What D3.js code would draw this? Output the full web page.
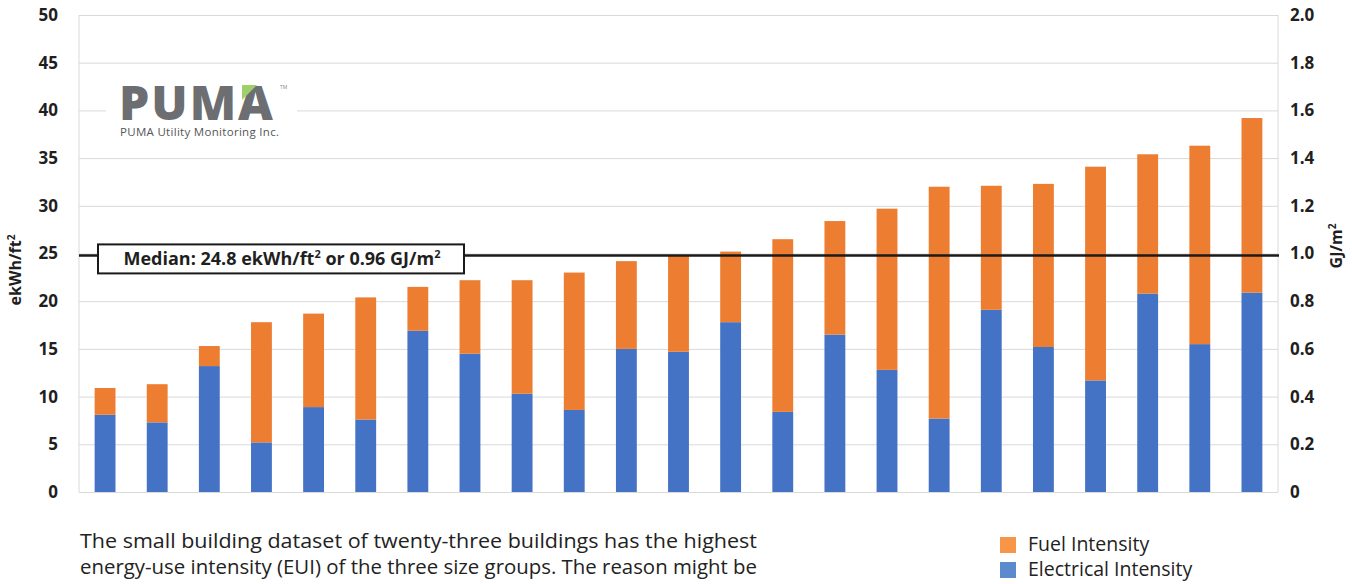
<!DOCTYPE html>
<html>
<head>
<meta charset="utf-8">
<script src="https://cdn.jsdelivr.net/npm/d3@7"></script>
<style>
  html, body { margin: 0; padding: 0; background: #fff; }
  svg { display: block; }
  text { font-family: "Open Sans", "Noto Sans", sans-serif; }
</style>
</head>
<body>
<svg id="chart" width="1352" height="584"></svg>
<script>
// Buildings in the small-size group, sorted by total EUI
const buildings = d3.range(1, 24).map(i => "B" + i);
// Electrical intensity, ekWh/ft²
const electrical = [8.1, 7.3, 13.2, 5.2, 8.9, 7.6, 16.9, 14.5, 10.3, 8.6, 15.0, 14.7,
                    17.8, 8.4, 16.5, 12.8, 7.7, 19.1, 15.2, 11.7, 20.8, 15.5, 20.9];
// Fuel intensity, ekWh/ft²
const fuel = [2.8, 4.0, 2.1, 12.6, 9.8, 12.8, 4.6, 7.7, 11.9, 14.4, 9.2, 10.1,
              7.4, 18.1, 11.9, 16.9, 24.3, 13.0, 17.1, 22.4, 14.6, 20.8, 18.3];
const leftTicks = [0, 5, 10, 15, 20, 25, 30, 35, 40, 45, 50];
const rightTicks = [0, 0.2, 0.4, 0.6, 0.8, 1.0, 1.2, 1.4, 1.6, 1.8, 2.0];
const medianEkwh = 24.8;
const medianGj = 0.96;
const seriesNames = ["Fuel Intensity", "Electrical Intensity"];
const captionLines = [
  "The small building dataset of twenty-three buildings has the highest",
  "energy-use intensity (EUI) of the three size groups. The reason might be"
];

const svg = d3.select("#chart");
const plot = { left: 79, right: 1278, top: 15, bottom: 492 };
const colors = { electrical: "#4472C4", fuel: "#ED7D31",
                 legendFuel: "#F79646", legendElec: "#5B8BCD" };

const x = d3.scaleBand().domain(buildings)
  .range([plot.left, plot.right]).paddingInner(0.6).paddingOuter(0.3);
const y = d3.scaleLinear().domain([0, 50]).range([plot.bottom, plot.top]);
const y2 = d3.scaleLinear().domain([0, 2]).range([plot.bottom, plot.top]);

// Gridlines
svg.append("g").attr("class", "grid")
  .attr("transform", `translate(${plot.left},0)`)
  .call(d3.axisLeft(y).tickValues(leftTicks).tickSize(-(plot.right - plot.left)).tickFormat(""))
  .call(g => g.select(".domain").remove())
  .call(g => g.selectAll("line").attr("stroke", "#d9d9d9").attr("stroke-width", 1));

// Plot frame sides
svg.append("line").attr("x1", plot.left).attr("x2", plot.left)
  .attr("y1", plot.top).attr("y2", plot.bottom).attr("stroke", "#d9d9d9");
svg.append("line").attr("x1", plot.right).attr("x2", plot.right)
  .attr("y1", plot.top).attr("y2", plot.bottom).attr("stroke", "#d9d9d9");

// Stacked bars
const rows = buildings.map((b, i) => ({ building: b, electrical: electrical[i], fuel: fuel[i] }));
const stacked = d3.stack().keys(["electrical", "fuel"])(rows);
svg.append("g").selectAll("g").data(stacked).join("g")
  .attr("fill", d => colors[d.key])
  .selectAll("rect").data(d => d).join("rect")
  .attr("x", d => x(d.data.building))
  .attr("width", x.bandwidth())
  .attr("y", d => y(d[1]))
  .attr("height", d => y(d[0]) - y(d[1]));

// Axes
const leftAxis = svg.append("g")
  .attr("transform", `translate(${plot.left},0)`)
  .call(d3.axisLeft(y).tickValues(leftTicks).tickSize(0).tickPadding(21).tickFormat(d3.format("d")));
const rightAxis = svg.append("g")
  .attr("transform", `translate(${plot.right},0)`)
  .call(d3.axisRight(y2).tickValues(rightTicks).tickSize(0).tickPadding(12)
    .tickFormat(d => d === 0 ? "0" : d3.format(".1f")(d)));
[leftAxis, rightAxis].forEach(a => {
  a.select(".domain").remove();
  a.selectAll("text").attr("font-family", "'Open Sans', sans-serif")
    .attr("font-size", 17).attr("font-weight", 700).attr("fill", "#1f1f1f");
});

// Axis titles
svg.append("text")
  .attr("transform", `translate(21,270) rotate(-90)`)
  .attr("text-anchor", "middle").attr("font-size", 16).attr("font-weight", 700).attr("fill", "#1f1f1f")
  .html('ekWh/ft<tspan dy="-6" font-size="10">2</tspan>');
svg.append("text")
  .attr("transform", `translate(1342,246) rotate(-90)`)
  .attr("text-anchor", "middle").attr("font-size", 16).attr("font-weight", 700).attr("fill", "#1f1f1f")
  .html('GJ/m<tspan dy="-6" font-size="10">2</tspan>');

// Logo panel
const logo = svg.append("g");
logo.append("rect").attr("x", 106).attr("y", 70).attr("width", 191).attr("height", 78).attr("fill", "#fff");
logo.append("text").attr("x", 119).attr("y", 120)
  .attr("font-family", "'Open Sans', sans-serif").attr("font-size", 48).attr("font-weight", 800)
  .attr("fill", "#6d6e71").attr("letter-spacing", 2).text("PUMA");
logo.append("polygon")
  .attr("points", "242,85 257,85 242,100")
  .attr("fill", "#9fce6b");
logo.append("text").attr("x", 280).attr("y", 89).attr("font-size", 5).attr("fill", "#888").text("TM");
logo.append("text").attr("x", 120).attr("y", 136)
  .attr("font-size", 11.5).attr("fill", "#555").attr("letter-spacing", 0.3)
  .text("PUMA Utility Monitoring Inc.");

// Median reference line and label box
const my = y(medianEkwh);
svg.append("line").attr("x1", plot.left).attr("x2", plot.right + 1)
  .attr("y1", my).attr("y2", my).attr("stroke", "#1a1a1a").attr("stroke-width", 2.5);
svg.append("rect").attr("x", 98).attr("y", my - 11).attr("width", 366).attr("height", 29)
  .attr("fill", "#fff").attr("stroke", "#1a1a1a").attr("stroke-width", 2);
svg.append("text").attr("x", 282).attr("y", my + 10)
  .attr("text-anchor", "middle").attr("font-size", 18).attr("font-weight", 700).attr("fill", "#1f1f1f")
  .html(`Median: ${medianEkwh} ekWh/ft<tspan dy="-7" font-size="11">2</tspan><tspan dy="7"> or ${medianGj} GJ/m</tspan><tspan dy="-7" font-size="11">2</tspan>`);

// Caption text, both lines set to the same column width
const capWidth = 677;
const capNodes = captionLines.map((line, i) =>
  svg.append("text").attr("x", 80).attr("y", 548 + i * 26)
    .attr("font-size", 20).attr("fill", "#222").text(line));
const widest = d3.max(capNodes, t => t.node().getComputedTextLength());
const capSize = 20 * capWidth / widest;
capNodes.forEach(t => {
  t.attr("font-size", capSize);
  t.attr("textLength", capWidth).attr("lengthAdjust", "spacingAndGlyphs");
});

// Legend
const legend = svg.append("g");
[[seriesNames[0], colors.legendFuel], [seriesNames[1], colors.legendElec]].forEach(([name, c], i) => {
  legend.append("rect").attr("x", 1000).attr("y", 537 + i * 25).attr("width", 16).attr("height", 16).attr("fill", c);
  legend.append("text").attr("x", 1028).attr("y", 551 + i * 25)
    .attr("font-size", 19.5).attr("fill", "#222").text(name);
});
</script>
</body>
</html>
